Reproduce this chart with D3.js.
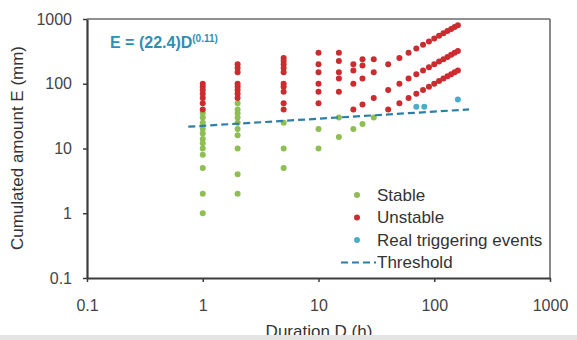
<!DOCTYPE html>
<html>
<head>
<meta charset="utf-8">
<script src="https://cdn.jsdelivr.net/npm/d3@7"></script>
<style>
  body { margin: 0; background: #fff; }
  svg { display: block; font-family: "Liberation Sans", Arial, sans-serif; }
</style>
</head>
<body>
<svg id="chart" width="577" height="340"></svg>
<script>
// short durations (h) and the cumulated rainfall at each
const durations = [1, 2, 5, 10, 15, 20, 24, 30];
const stableE = [
    [35, 30, 25, 20, 17, 14, 12, 10, 8, 5, 2, 1],
    [50, 40, 35, 30, 25, 20, 16, 10, 4, 2],
    [25, 10, 5],
    [20, 10],
    [30, 15],
    [20],
    [24],
    [30]
];
const unstableE = [
    [100, 90, 80, 70, 60, 50, 40],
    [200, 175, 150, 100, 90, 80, 70, 60],
    [250, 225, 200, 175, 150, 100, 90, 75, 50, 40],
    [300, 200, 150, 100, 75, 50],
    [300, 225, 150, 120, 75],
    [200, 160, 100, 40],
    [240, 192, 120, 48],
    [240, 150, 60]
];

// long durations: three rows of unstable points
const longD = [40, 50, 60, 70, 80, 90, 100, 110, 120, 130, 140, 150, 160];
const longHigh = [200, 250, 300, 350, 400, 450, 500, 550, 600, 650, 700, 750, 800];
const longMid = [80, 100, 120, 140, 160, 180, 200, 220, 240, 260, 280, 300, 320];
const longLow = [40, 50, 60, 70, 80, 90, 100, 110, 120, 130, 140, 150, 160];

const realD = [70, 82, 160];
const realE = [44, 44, 57];

const thresholdD = [0.75, 200];
const thresholdE = [21.7, 40.1];

const tickValues = [0.1, 1, 10, 100, 1000];
const legendItems = ["Stable", "Unstable", "Real triggering events", "Threshold"];

const green = "#8fbe54", red = "#cc2b2f", blue = "#4aaec8", lineBlue = "#2b7fa6";

const svg = d3.select("#chart");

const x = d3.scaleLog().domain([0.1, 1000]).range([87, 550]);
const y = d3.scaleLog().domain([0.1, 1000]).range([278, 19]);

// flatten to point lists
const stablePts = [], unstablePts = [];
durations.forEach((d, i) => {
    stableE[i].forEach(e => stablePts.push([d, e]));
    unstableE[i].forEach(e => unstablePts.push([d, e]));
});
longD.forEach((d, i) => {
    unstablePts.push([d, longHigh[i]], [d, longMid[i]], [d, longLow[i]]);
});
const realPts = realD.map((d, i) => [d, realE[i]]);

// frame
svg.append("line").attr("x1", 87).attr("x2", 550).attr("y1", 19).attr("y2", 19)
    .attr("stroke", "#6b6b6b").attr("stroke-width", 1.6);
svg.append("line").attr("x1", 550).attr("x2", 550).attr("y1", 19).attr("y2", 278)
    .attr("stroke", "#6b6b6b").attr("stroke-width", 1.6);

const xAxis = svg.append("g")
    .attr("transform", "translate(0,278)")
    .call(d3.axisBottom(x).tickValues(tickValues).tickFormat(d => String(d))
        .tickSize(4).tickSizeOuter(0).tickPadding(18));
const yAxis = svg.append("g")
    .attr("transform", "translate(87,0)")
    .call(d3.axisLeft(y).tickValues(tickValues).tickFormat(d => String(d))
        .tickSize(4).tickSizeOuter(0).tickPadding(11));

[xAxis, yAxis].forEach(g => {
    g.select(".domain").attr("stroke", "#3c3c3c").attr("stroke-width", 2.2);
    g.selectAll(".tick line").attr("stroke", "#3c3c3c").attr("stroke-width", 1.5);
    g.selectAll(".tick text").attr("font-size", 16).attr("fill", "#444")
        .attr("font-family", "Liberation Sans, Arial, sans-serif");
});

// points
const dots = (pts, color) => svg.append("g").selectAll("circle")
    .data(pts).join("circle")
    .attr("cx", d => x(d[0])).attr("cy", d => y(d[1]))
    .attr("r", 3).attr("fill", color);

dots(stablePts, green);
dots(unstablePts, red);

svg.append("path")
    .datum(thresholdD.map((d, i) => [d, thresholdE[i]]))
    .attr("fill", "none").attr("stroke", lineBlue).attr("stroke-width", 2.2)
    .attr("stroke-dasharray", "7,4")
    .attr("d", d3.line().x(d => x(d[0])).y(d => y(d[1])));

dots(realPts, blue);

// equation
const eq = svg.append("text").attr("x", 110).attr("y", 48)
    .attr("fill", "#2f8fb3").attr("font-size", 16).attr("font-weight", "bold");
eq.append("tspan").text("E = (22.4)D");
eq.append("tspan").attr("font-size", 10).attr("dy", -6).text("(0.11)");

// legend
const leg = svg.append("g");
const legColors = [green, red, blue];
legendItems.forEach((t, i) => {
    const cy = 195 + i * 22.5;
    if (i < 3) {
        leg.append("circle").attr("cx", 357).attr("cy", cy).attr("r", 3).attr("fill", legColors[i]);
    } else {
        leg.append("line").attr("x1", 341).attr("x2", 376).attr("y1", cy).attr("y2", cy)
            .attr("stroke", lineBlue).attr("stroke-width", 2.2).attr("stroke-dasharray", "7,4");
    }
    leg.append("text").attr("x", 377).attr("y", cy).attr("dy", "0.35em")
        .attr("font-size", 17).attr("fill", "#333").text(t);
});

// axis titles
svg.append("text").attr("transform", "translate(23,148) rotate(-90)")
    .attr("text-anchor", "middle").attr("font-size", 17).attr("fill", "#333")
    .text("Cumulated amount E (mm)");
svg.append("text").attr("x", 319).attr("y", 337)
    .attr("text-anchor", "middle").attr("font-size", 17).attr("fill", "#333")
    .text("Duration D (h)");

// grey strip at the bottom edge
svg.append("rect").attr("x", 0).attr("y", 335).attr("width", 577).attr("height", 5)
    .attr("fill", "#e4e4e4");
</script>
</body>
</html>
